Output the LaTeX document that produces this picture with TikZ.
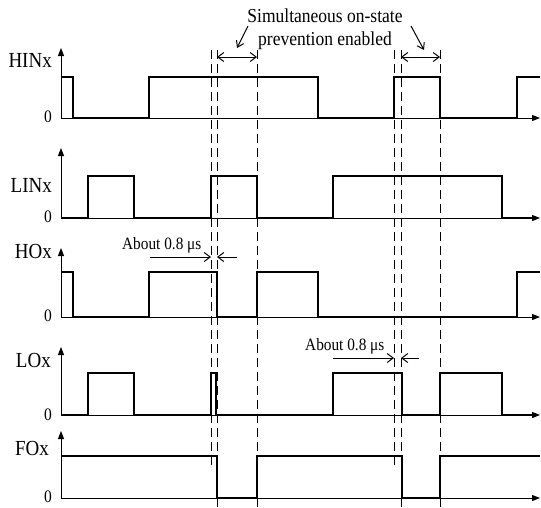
\documentclass[tikz,border=0pt]{standalone}
\usepackage{fontspec}
\usepackage{graphicx}
\setmainfont{Liberation Serif}
\usetikzlibrary{arrows.meta}
\newcommand{\tallx}[1]{\scalebox{1}[1.13]{#1}}
\begin{document}
\begin{tikzpicture}[x=1pt,y=-1pt,
 wave/.style={line width=2.6pt, line join=miter},
 axisline/.style={line width=1pt,-{Triangle[length=8pt,width=6pt]}},
 guide/.style={line width=0.9pt, dash pattern=on 9pt off 5pt},
 dimline/.style={line width=1pt,-{Straight Barb[length=6pt,width=9pt]}},
 ptr/.style={line width=1pt,-{Straight Barb[length=6pt,width=8pt]}},
 lab/.style={anchor=base east, inner sep=0pt, font=\fontsize{19}{19}\selectfont},
 zerolab/.style={anchor=base east, inner sep=0pt, font=\fontsize{15.5}{15.5}\selectfont},
 note/.style={anchor=base, inner sep=0pt, font=\fontsize{17.5}{17.5}\selectfont},
 smallnote/.style={anchor=base west, inner sep=0pt, font=\fontsize{15.3}{15.3}\selectfont}]
\useasboundingbox (0,0) rectangle (541,507);

% guide lines
\draw[guide] (211,50) -- (211,470);
\draw[guide] (217,50) -- (217,507);
\draw[guide] (257,50) -- (257,507);
\draw[guide] (394,50) -- (394,470);
\draw[guide] (401,50) -- (401,507);
\draw[guide] (440,50) -- (440,507);

% axes
\foreach \z/\t in {118/48, 218/148, 317/248, 415/347, 498/431}{
  \draw[axisline] (61,\z) -- (61,\t);
  \draw[axisline] (61,\z) -- (540,\z);
}

% labels
\node[lab] (lhin) at (52,67) {\tallx{HINx}};
\node[lab] (llin) at (52,192) {\tallx{LINx}};
\node[lab] (lho) at (52,258) {\tallx{HOx}};
\node[lab] (llo) at (51,367) {\tallx{LOx}};
\node[lab] (lfo) at (49,455) {\tallx{FOx}};
\node[zerolab] (z1) at (52,122) {\tallx{0}};
\node[zerolab] (z2) at (52,222) {\tallx{0}};
\node[zerolab] (z3) at (52,321) {\tallx{0}};
\node[zerolab] (z4) at (52,420) {\tallx{0}};
\node[zerolab] (z5) at (52,502) {\tallx{0}};

% waveforms
\draw[wave] (61,77) -- (73,77) -- (73,118) -- (149,118) -- (149,77) -- (318,77) -- (318,118) -- (394,118) -- (394,77) -- (440,77) -- (440,118) -- (517,118) -- (517,77) -- (540,77);
\draw[wave] (61,218) -- (88,218) -- (88,176) -- (134,176) -- (134,218) -- (211,218) -- (211,176) -- (257,176) -- (257,218) -- (333,218) -- (333,176) -- (502,176) -- (502,218) -- (532,218);
\draw[wave] (61,272) -- (73,272) -- (73,317) -- (149,317) -- (149,272) -- (217,272) -- (217,317) -- (257,317) -- (257,272) -- (318,272) -- (318,317) -- (517,317) -- (517,272) -- (540,272);
\draw[wave] (61,415) -- (88,415) -- (88,373) -- (134,373) -- (134,415) -- (211,415) -- (211,373) -- (216,373) -- (216,415) -- (333,415) -- (333,373) -- (402,373) -- (402,415) -- (440,415) -- (440,373) -- (502,373) -- (502,415) -- (532,415);
\draw[wave] (61,456) -- (217,456) -- (217,498) -- (257,498) -- (257,456) -- (402,456) -- (402,498) -- (440,498) -- (440,456) -- (540,456);

% top annotation
\node[note] (t1) at (325,22) {\tallx{Simultaneous on-state}};
\node[note] (t2) at (325,45) {\tallx{prevention enabled}};
\draw[dimline, {Straight Barb[length=6pt,width=9pt]}-{Straight Barb[length=6pt,width=9pt]}] (217,57) -- (257,57);
\draw[dimline, {Straight Barb[length=6pt,width=9pt]}-{Straight Barb[length=6pt,width=9pt]}] (401,57) -- (440,57);
\draw[ptr] (248,26) -- (237,48);
\draw[ptr] (411,26) -- (424,50);

% about 0.8 us annotations
\node[smallnote] (a1) at (122,249) {\tallx{About 0.8 μs}};
\draw[dimline] (150,257) -- (211,257);
\draw[dimline] (237,257) -- (217,257);
\node[smallnote] (a2) at (305,350) {\tallx{About 0.8 μs}};
\draw[dimline] (333,358) -- (394,358);
\draw[dimline] (419,358) -- (401,358);
\end{tikzpicture}
\end{document}
